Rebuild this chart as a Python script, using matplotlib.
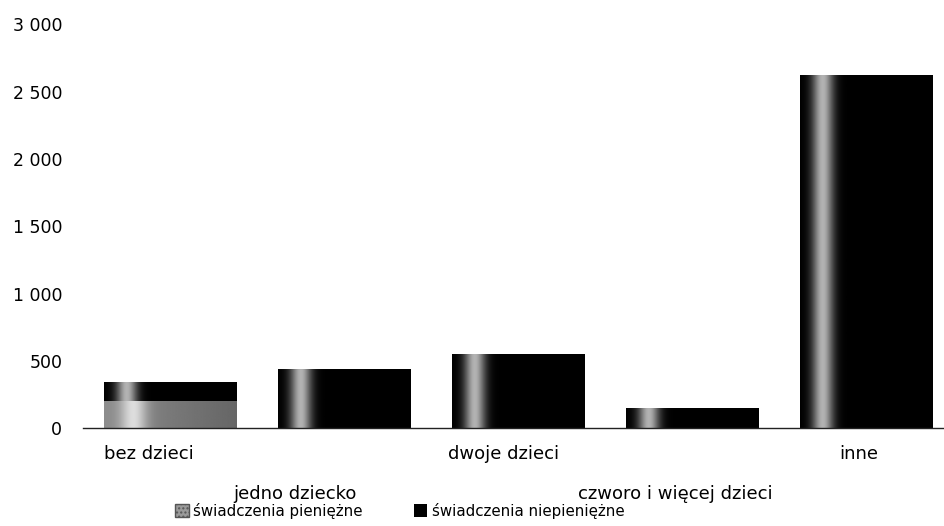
import numpy as np
import matplotlib
matplotlib.use("Agg")
import matplotlib.pyplot as plt
from matplotlib.patches import Patch
from matplotlib.transforms import ScaledTranslation

categories = ['bez dzieci', 'jedno dziecko', 'dwoje dzieci', 'czworo i więcej dzieci', 'inne']
pieniezne = [200, 0, 0, 0, 0]
niepieniezne = [140, 440, 550, 150, 2620]
series_names = ['świadczenia pieniężne', 'świadczenia niepieniężne']
yticks = [0, 500, 1000, 1500, 2000, 2500, 3000]
ytick_labels = ['0', '500', '1 000', '1 500', '2 000', '2 500', '3 000']

plt.rcParams['font.family'] = ['DejaVu Sans']

fig = plt.figure(figsize=(9.45, 5.26), dpi=100)
ax = fig.add_axes([0.088, 0.186, 0.912, 0.768])

x = np.arange(len(categories))
width = 0.76
bars_p = ax.bar(x, pieniezne, width, color='#9a9a9a', zorder=2)
bars_n = ax.bar(x, niepieniezne, width, bottom=pieniezne, color='black', zorder=2)

# cylinder-like shading: a light streak near the left side of each bar
f = np.linspace(0, 1, 200)
dark_profile = 0.7 * np.exp(-((f - 0.17) / 0.08) ** 2)
light_profile = 0.55 + 0.35 * np.exp(-((f - 0.22) / 0.10) ** 2) - 0.15 * f

def shade(bars, profile):
    for rect in bars:
        h = rect.get_height()
        if h <= 0:
            continue
        x0 = rect.get_x()
        y0 = rect.get_y()
        w = rect.get_width()
        im = ax.imshow(profile[np.newaxis, :], extent=[x0, x0 + w, y0, y0 + h],
                       aspect='auto', cmap='gray', vmin=0, vmax=1,
                       interpolation='bilinear', zorder=3)
        im.set_clip_path(rect)

shade(bars_p, light_profile)
shade(bars_n, dark_profile)

ax.set_xlim(-0.5, 4.45)
ax.set_ylim(0, 3000)
ax.set_yticks(yticks, ytick_labels)

labels = []
for i, c in enumerate(categories):
    labels.append(c if i % 2 == 0 else '\n\n' + c)
ax.set_xticks(x, labels)

ax.tick_params(axis='both', length=0, colors='black')
ax.tick_params(axis='y', pad=15, labelsize=12.5)
ax.tick_params(axis='x', pad=12, labelsize=13)
# labels sit a little left of the bar centres in the original (pixels)
shifts = [-21, -49, -15, -17, -8]
for lab, dx in zip(ax.get_xticklabels(), shifts):
    lab.set_transform(lab.get_transform() + ScaledTranslation(dx / 100, 0, fig.dpi_scale_trans))
    lab.set_linespacing(1.15)

for s in ['top', 'right', 'left']:
    ax.spines[s].set_visible(False)
ax.spines['bottom'].set_color('#222222')
ax.spines['bottom'].set_linewidth(1.0)
ax.spines['bottom'].set_zorder(4)

handles = [Patch(facecolor='#9a9a9a', edgecolor='#555555', hatch='....', label=series_names[0]),
           Patch(facecolor='black', label=series_names[1])]
fig.legend(handles=handles, loc='center', bbox_to_anchor=(0.423, 0.029), ncol=2,
           frameon=False, fontsize=10.8, handlelength=0.9, handleheight=0.9,
           handletextpad=0.3, columnspacing=3.4)

fig.savefig('out.png', dpi=100)
